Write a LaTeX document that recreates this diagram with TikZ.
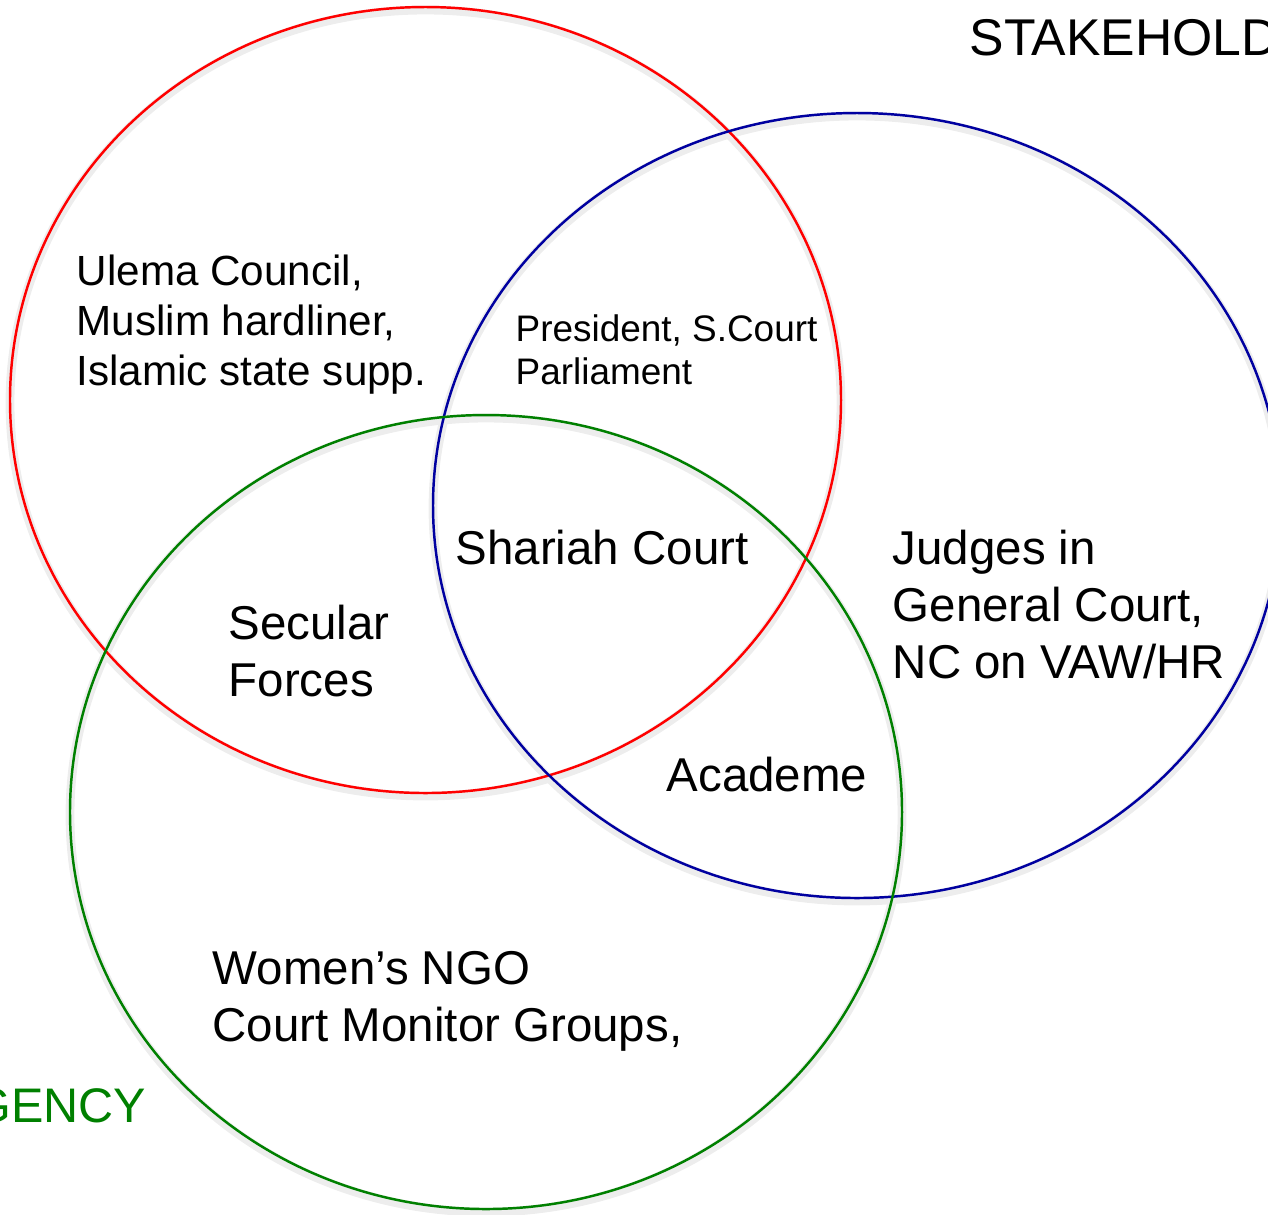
\documentclass[tikz,border=0pt]{standalone}
\usepackage{fontspec}
\setmainfont{Liberation Sans}
\usepackage{tikz}

\definecolor{vred}{RGB}{255,0,0}
\definecolor{vblue}{RGB}{0,0,160}
\definecolor{vgreen}{RGB}{0,128,0}

\tikzset{
  ring/.style={line width=0.7pt},
  ringshade/.style={draw=black!7, line width=2.5pt},
  bigtxt/.style={anchor=base west, inner sep=0pt, align=left,
    font=\fontsize{13.5}{16.2}\selectfont},
  midtxt/.style={anchor=base west, inner sep=0pt, align=left,
    font=\fontsize{12}{14.2}\selectfont},
  smalltxt/.style={anchor=base west, inner sep=0pt, align=left,
    font=\fontsize{10.5}{12}\selectfont},
  headtxt/.style={anchor=base west, inner sep=0pt,
    font=\fontsize{14.7}{18}\selectfont}
}

\begin{document}
\begin{tikzpicture}[x=0.01cm,y=-0.01cm]
\useasboundingbox (0,0) rectangle (1268,1214);
\clip (0,0) rectangle (1268,1214);
% soft shadows under the rings
\draw[ringshade] (425.5,403) ellipse [x radius=415.5, y radius=393];
\draw[ringshade] (857,508.5) ellipse [x radius=424, y radius=392.5];
\draw[ringshade] (486,815) ellipse [x radius=416, y radius=397];
% the three sets
\draw[ring,vred] (425.5,400) ellipse [x radius=415.5, y radius=393];
\draw[ring,vblue] (857,505.5) ellipse [x radius=424, y radius=392.5];
\draw[ring,vgreen] (486,812) ellipse [x radius=416, y radius=397];
% headings
\node[headtxt] (stake) at (969,55) {STAKEHOLD};
\node[headtxt,anchor=base east,text=vgreen,font=\fontsize{13.8}{18}\selectfont] (agency) at (147,1122) {GENCY};
% members (base = last line)
\node[midtxt] (ulema) at (76,385) {Ulema Council,\\Muslim hardliner,\\Islamic state supp.};
\node[smalltxt] (pres) at (515,384) {President, S.Court\\Parliament};
\node[bigtxt] (shariah) at (455,564) {Shariah Court};
\node[bigtxt] (secular) at (228,696) {Secular\\Forces};
\node[bigtxt] (judges) at (892,678) {Judges in\\General Court,\\NC on VAW/HR};
\node[bigtxt] (acad) at (666,791) {Academe};
\node[bigtxt] (women) at (212,1041) {Women’s NGO\\Court Monitor Groups,};
\end{tikzpicture}
\end{document}
